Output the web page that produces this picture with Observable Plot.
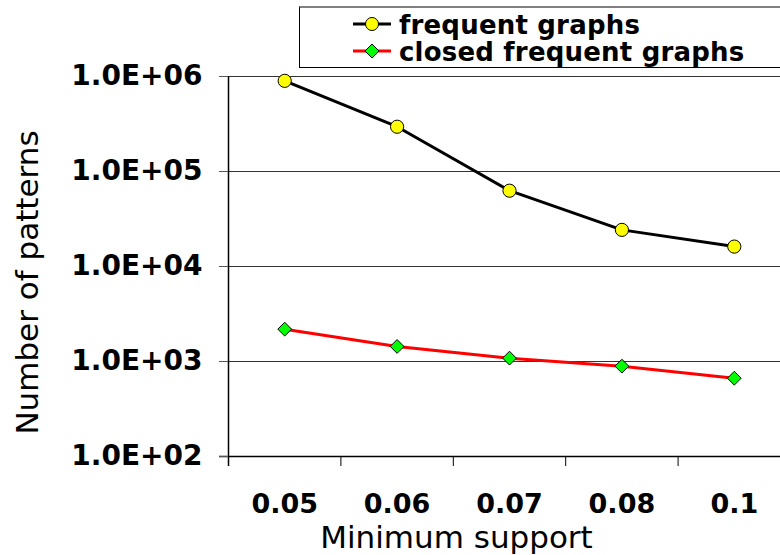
<!DOCTYPE html>
<html>
<head>
<meta charset="utf-8">
<script src="https://cdn.jsdelivr.net/npm/d3@7"></script>
<script src="https://cdn.jsdelivr.net/npm/@observablehq/plot@0.6"></script>
<style>
  html, body { margin: 0; padding: 0; background: #fff; overflow: hidden; }
  #wrap { position: relative; width: 780px; height: 555px; overflow: hidden; }
  #legend { position: absolute; left: 299px; top: 6px; width: 520px; height: 59px;
    border: 1px solid #000; border-top: 2px solid #808080; background: #fff; box-sizing: content-box; }
  .row { position: absolute; left: 0; height: 26px; }
  .row svg { position: absolute; left: 53px; top: 0; }
  .row span { position: absolute; left: 99px; top: 1px; font: bold 26px "DejaVu Sans", sans-serif; line-height: 26px; white-space: nowrap; color: #000; letter-spacing: 0.2px; }
</style>
</head>
<body>
<div id="wrap">
  <div id="chart"></div>
  <div id="legend"></div>
</div>
<script>
// ---- data ----
const xLabels = ["0.05", "0.06", "0.07", "0.08", "0.1"];
const frequentGraphs = [900000, 296000, 62800, 24300, 16200];
const closedFrequentGraphs = [2190, 1440, 1085, 893, 667];
const yTicks = [1e2, 1e3, 1e4, 1e5, 1e6];
const yTickLabels = ["1.0E+02", "1.0E+03", "1.0E+04", "1.0E+05", "1.0E+06"];
const seriesNames = ["frequent graphs", "closed frequent graphs"];
const xTitle = "Minimum support";
const yTitle = "Number of patterns";

const freq = xLabels.map((c, i) => ({i, c, v: frequentGraphs[i]}));
const closed = xLabels.map((c, i) => ({i, c, v: closedFrequentGraphs[i]}));
const centers = xLabels.map((c, i) => i + 0.5);
const bounds = d3.range(xLabels.length + 1);

const chart = Plot.plot({
  width: 780,
  height: 555,
  marginLeft: 228,
  marginRight: 0,
  marginTop: 76,
  marginBottom: 99,
  style: {background: "#fff", overflow: "visible"},
  x: {type: "linear", domain: [0, xLabels.length], range: [228, 790]},
  y: {type: "log", domain: [1e2, 1e6]},
  marks: [
    Plot.ruleY(yTicks.slice(1), {stroke: "#333", strokeWidth: 1}),
    Plot.ruleY([1e2], {stroke: "#000", strokeWidth: 1.5, insetLeft: -9}),
    Plot.ruleX([0], {stroke: "#000", strokeWidth: 1.5, insetBottom: -10}),
    Plot.axisX({ticks: bounds, tickSize: 10, tickFormat: () => "", stroke: "#000", strokeWidth: 1}),
    Plot.axisX({ticks: centers, tickSize: 0, tickPadding: 37,
      tickFormat: d => xLabels[Math.round(d - 0.5)],
      fontSize: 27, fontWeight: "bold", fontFamily: "DejaVu Sans", fill: "#000", label: null}),
    Plot.axisY({ticks: yTicks, tickSize: 9, tickPadding: 17, stroke: "#555",
      tickFormat: d => yTickLabels[yTicks.indexOf(d)],
      fontSize: 28, fontWeight: "bold", fontFamily: "DejaVu Sans", fill: "#000", label: null}),
    Plot.line(freq, {x: d => d.i + 0.5, y: "v", stroke: "#000", strokeWidth: 3}),
    Plot.line(closed, {x: d => d.i + 0.5, y: "v", stroke: "#ff0000", strokeWidth: 3}),
    Plot.dot(freq, {x: d => d.i + 0.5, y: "v", r: 6.6, fill: "#ffff00", stroke: "#000", strokeWidth: 1}),
    Plot.dot(closed, {x: d => d.i + 0.5, y: "v", r: 6.2, symbol: "diamond2", fill: "#00ff00", stroke: "#000", strokeWidth: 1}),
    Plot.text([xTitle], {frameAnchor: "bottom-left", dx: 228, dy: 91, text: d => d, textAnchor: "middle",
      fontSize: 31, fontFamily: "DejaVu Sans", fill: "#000", lineAnchor: "bottom"}),
    Plot.text([yTitle], {frameAnchor: "left", dx: -200, dy: 16, rotate: -90, text: d => d, textAnchor: "middle",
      fontSize: 31, fontFamily: "DejaVu Sans", fill: "#000", lineAnchor: "middle"})
  ]
});
document.getElementById("chart").appendChild(chart);

// ---- legend ----
const legend = d3.select("#legend");
const rows = [
  {name: seriesNames[0], stroke: "#000", fill: "#ffff00", shape: "circle", top: 3},
  {name: seriesNames[1], stroke: "#ff0000", fill: "#00ff00", shape: "diamond", top: 30}
];
rows.forEach(r => {
  const row = legend.append("div").attr("class", "row").style("top", r.top + "px").style("width", "520px");
  const svg = row.append("svg").attr("width", 40).attr("height", 26);
  svg.append("line").attr("x1", 0).attr("x2", 38).attr("y1", 13).attr("y2", 13)
    .attr("stroke", r.stroke).attr("stroke-width", 3);
  if (r.shape === "circle") {
    svg.append("circle").attr("cx", 19).attr("cy", 13).attr("r", 6.5)
      .attr("fill", r.fill).attr("stroke", "#000").attr("stroke-width", 1);
  } else {
    svg.append("path").attr("d", "M19,6L26,13L19,20L12,13Z")
      .attr("fill", r.fill).attr("stroke", "#000").attr("stroke-width", 1);
  }
  row.append("span").text(r.name);
});
</script>
</body>
</html>
